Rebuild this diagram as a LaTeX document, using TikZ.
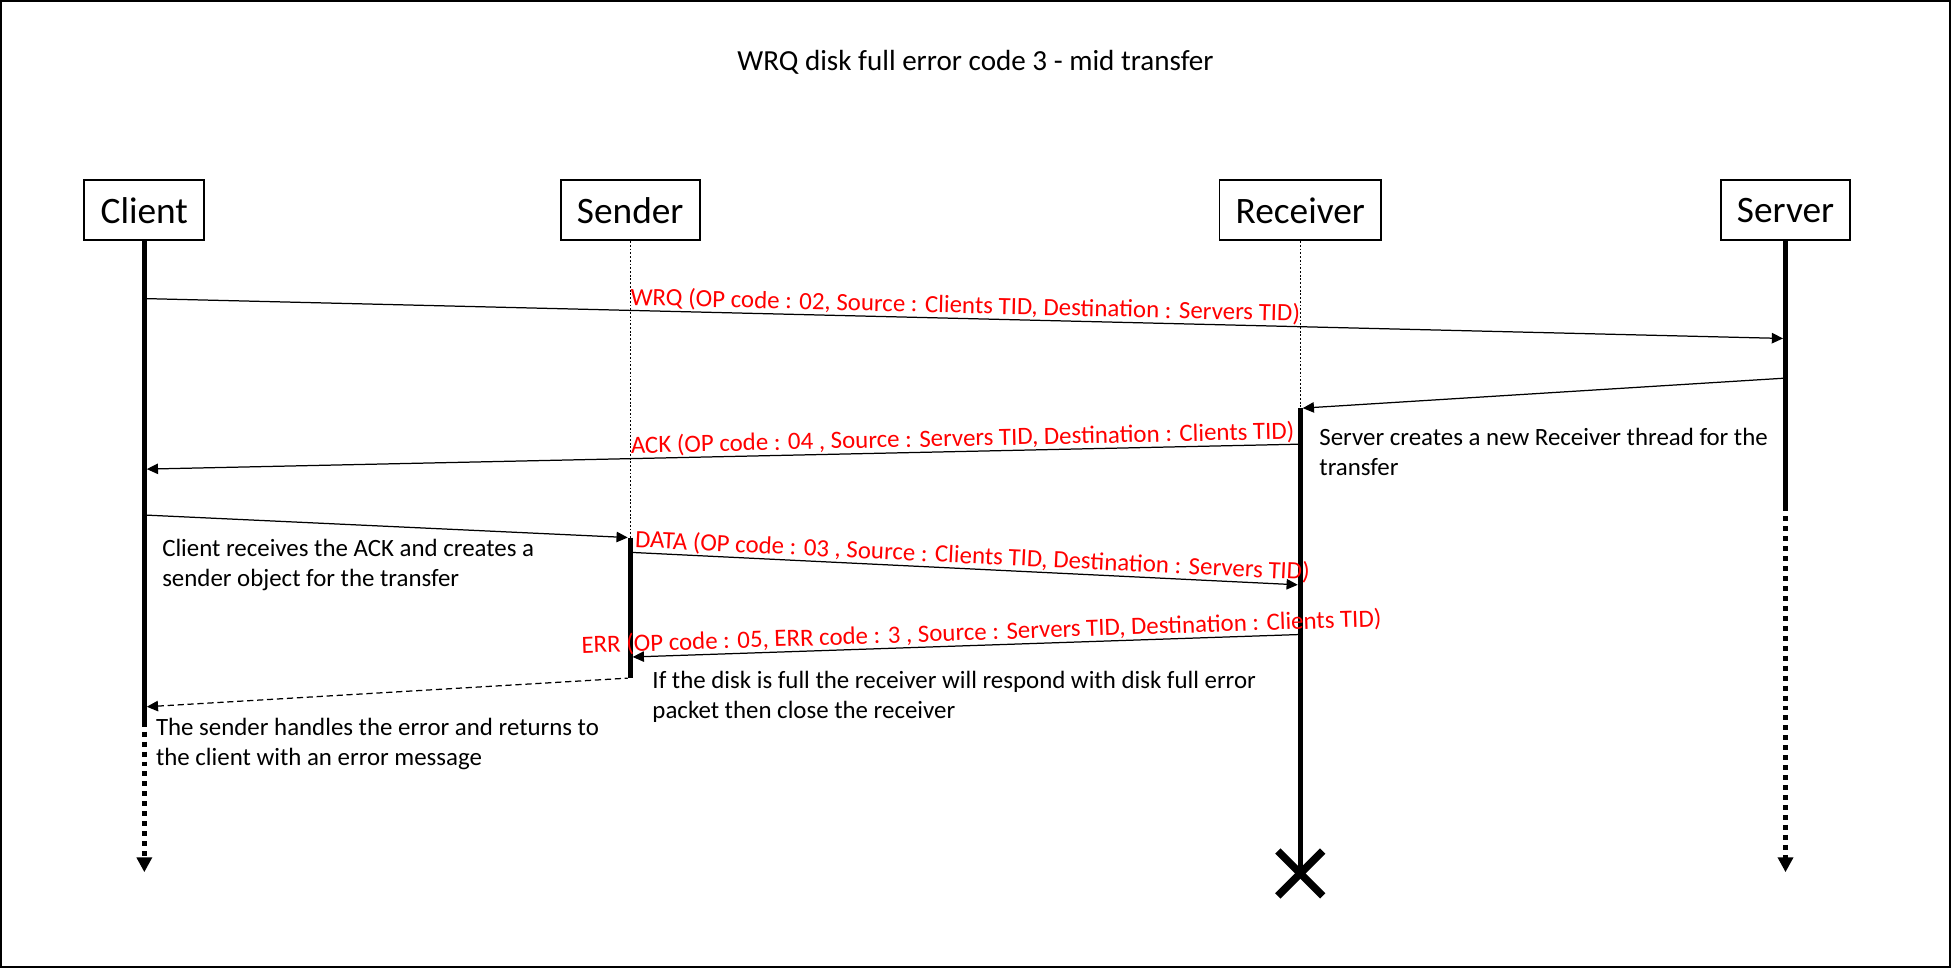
\documentclass[tikz,border=0pt]{standalone}
\usepackage{fontspec}
\setmainfont{Carlito}
\usetikzlibrary{arrows.meta}
\begin{document}
\begin{tikzpicture}[x=0.5pt,y=-0.5pt,
  head/.style={draw, line width=0.8pt, minimum height=24pt, inner xsep=6.5pt, inner ysep=0pt, font=\fontsize{15}{18}\selectfont},
  life/.style={line width=2pt},
  lifedot/.style={line width=2pt, dash pattern=on 2pt off 2pt, -{Triangle[length=6pt,width=6pt]}},
  thinlife/.style={line width=0.5pt, dash pattern=on 0.75pt off 0.75pt},
  msg/.style={line width=0.5pt, -{Triangle[length=4.5pt,width=4.2pt]}},
  rmsg/.style={line width=0.5pt, {Triangle[length=4.5pt,width=4.2pt]}-},
  retmsg/.style={line width=0.5pt, dash pattern=on 2.5pt off 1.5pt, {Triangle[length=4.5pt,width=4.2pt]}-},
  lbl/.style={text=red, font=\fontsize{10}{12}\selectfont, sloped, above, inner sep=0.5pt},
  note/.style={font=\fontsize{10}{12}\selectfont, align=left, inner sep=0pt, anchor=west},
  cross/.style={line width=3pt},
]
\useasboundingbox (0,0) rectangle (1568,778);
\draw[line width=0.8pt] (0.8,0.8) rectangle (1567.2,777.2);

\node[font=\fontsize{11.7}{14}\selectfont] (title) at (784,50) {WRQ disk full error code 3 - mid transfer};

% heads
\node[head] (client) at (116,169) {Client};
\node[head] (sender) at (506.5,169) {Sender};
\node[head] (receiver) at (1045,169) {Receiver};
\node[head] (server) at (1435,169) {Server};

% lifelines
\coordinate (clEnd) at (116,580);
\coordinate (clTip) at (116,701);
\draw[life] (client.south) -- (clEnd);
\draw[lifedot] (clEnd) -- (clTip);

\coordinate (svEnd) at (1435,407);
\coordinate (svTip) at (1435,701);
\draw[life] (server.south) -- (svEnd);
\draw[lifedot] (svEnd) -- (svTip);

\coordinate (sdTop) at (506.5,432);
\coordinate (sdBot) at (506.5,545);
\draw[thinlife] (sender.south) -- (sdTop);
\draw[life] (sdTop) -- (sdBot);

\coordinate (rvTop) at (1045,328);
\coordinate (rvBot) at (1045,701);
\draw[thinlife] (receiver.south) -- (rvTop);
\draw[life] (rvTop) -- (rvBot);

% cross
\coordinate (x1) at (1027,684);
\coordinate (x2) at (1063,720);
\coordinate (x3) at (1063,684);
\coordinate (x4) at (1027,720);
\draw[cross] (x1) -- (x2);
\draw[cross] (x3) -- (x4);

% message end points
\coordinate (wrqA) at (118,240);
\coordinate (wrqB) at (1433,272);
\coordinate (srvA) at (1433,304);
\coordinate (rcvA) at (1047,328);
\coordinate (ackA) at (1043,357);
\coordinate (ackB) at (118,377);
\coordinate (d1A) at (118,414);
\coordinate (d1B) at (504.5,432);
\coordinate (dataA) at (508.5,444);
\coordinate (dataB) at (1043,470);
\coordinate (errA) at (1043,510);
\coordinate (errB) at (508.5,528);
\coordinate (retA) at (504.5,545);
\coordinate (retB) at (118,568);

% messages
\draw[msg] (wrqA) -- node[lbl,pos=0.5] {WRQ (OP code : 02, Source : Clients TID, Destination : Servers TID)} (wrqB);
\draw[msg] (srvA) -- (rcvA);
\draw[rmsg] (ackB) -- node[lbl,pos=0.709] {ACK (OP code : 04 , Source : Servers TID, Destination : Clients TID)} (ackA);
\draw[msg] (d1A) -- (d1B);
\draw[msg] (dataA) -- node[lbl,pos=0.51] {DATA (OP code : 03 , Source : Clients TID, Destination : Servers TID)} (dataB);
\draw[rmsg] (errB) -- node[lbl,pos=0.525] {ERR (OP code : 05, ERR code : 3 , Source : Servers TID, Destination : Clients TID)} (errA);
\draw[retmsg] (retB) -- (retA);

% notes
\node[note] (n1) at (1060,363) {Server creates a new Receiver thread for the\\transfer};
\node[note] (n2) at (130,454) {Client receives the ACK and creates a\\sender object for the transfer};
\node[note] (n3) at (524,560) {If the disk is full the receiver will respond with disk full error\\packet then close the receiver};
\node[note] (n4) at (125,598) {The sender handles the error and returns to\\the client with an error message};
\end{tikzpicture}
\end{document}
